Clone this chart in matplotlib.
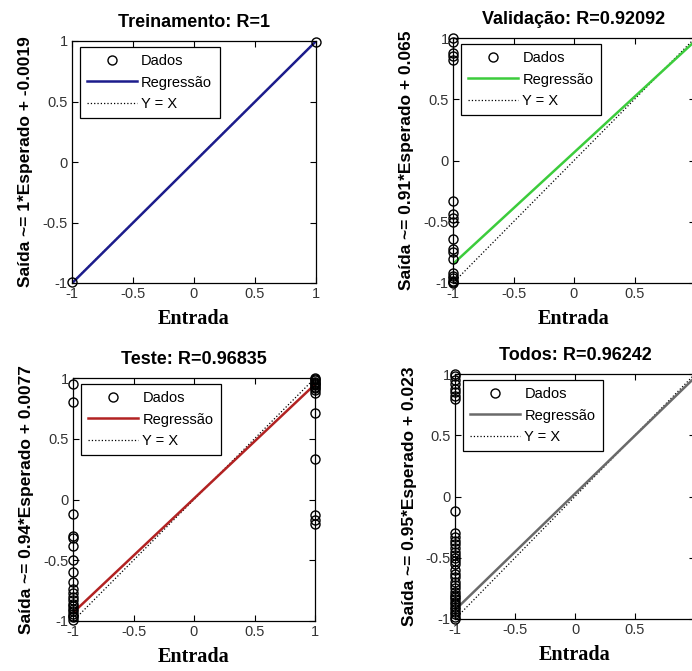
import numpy as np
import matplotlib
matplotlib.use("Agg")
import matplotlib.pyplot as plt

W, H = 692, 671

# painel: titulo, rotulo y, inclinação, intercepto, cor
titles = ["Treinamento: R=1", "Validação: R=0.92092", "Teste: R=0.96835", "Todos: R=0.96242"]
ylabels = ["Saída ~= 1*Esperado + -0.0019", "Saída ~= 0.91*Esperado + 0.065",
           "Saída ~= 0.94*Esperado + 0.0077", "Saída ~= 0.95*Esperado + 0.023"]
slopes = [1.0, 0.91, 0.94, 0.95]
intercepts = [-0.0019, 0.065, 0.0077, 0.023]
colors = ["#1c1c8c", "#3ccc3c", "#b22222", "#6a6a6a"]

# saídas, para alvo -1 e alvo 1
train_neg = [-0.99]
train_pos = [0.99]
valid_neg = [1.0, 0.97, 0.88, 0.85, 0.82, -0.33, -0.44, -0.47, -0.5, -0.64, -0.72, -0.75, -0.8,
             -0.92, -0.94, -0.96, -0.98, -0.99, -1.0]
valid_pos = []
test_neg = [0.95, 0.8, -0.12, -0.3, -0.32, -0.38, -0.5, -0.6, -0.68, -0.74, -0.77, -0.8, -0.83,
            -0.86, -0.88, -0.9, -0.92, -0.94, -0.96, -0.97, -0.99]
test_pos = [1.0, 0.99, 0.98, 0.97, 0.96, 0.95, 0.94, 0.93, 0.92, 0.9, 0.88, 0.71, 0.33,
            -0.13, -0.17, -0.2]
all_neg = [1.0, 0.98, 0.95, 0.92, 0.88, 0.85, 0.82, 0.8, -0.12, -0.3, -0.33, -0.36, -0.39, -0.42,
           -0.45, -0.48, -0.5, -0.53, -0.55, -0.6, -0.63, -0.66, -0.7, -0.72, -0.75, -0.78, -0.8,
           -0.82, -0.84, -0.86, -0.88, -0.9, -0.92, -0.94, -0.96, -0.98, -1.0]
all_pos = []
neg_data = [train_neg, valid_neg, test_neg, all_neg]
pos_data = [train_pos, valid_pos, test_pos, all_pos]

ticks = [-1, -0.5, 0, 0.5, 1]
tick_labels = ["-1", "-0.5", "0", "0.5", "1"]

# caixas dos eixos em pixels: esquerda, direita, topo, base
boxes = [(72, 316, 41, 283), (453, 695, 38, 283), (73, 315, 378, 621), (455, 695, 374, 619)]

fig = plt.figure(figsize=(W / 100, H / 100), dpi=100)
plt.rcParams['font.family'] = ['Liberation Sans', 'DejaVu Sans']

for i in range(4):
    l, r, t, b = boxes[i]
    aw, ah = r - l, b - t
    ax = fig.add_axes([l / W, (H - b) / H, aw / W, ah / H])
    xs = [-1] * len(neg_data[i]) + [1] * len(pos_data[i])
    ys = list(neg_data[i]) + list(pos_data[i])
    ax.plot(xs, ys, 'o', mfc='none', mec='k', ms=6.5, mew=1, clip_on=False, label='Dados', zorder=3)
    fx = np.array([-1, 1])
    ax.plot(fx, slopes[i] * fx + intercepts[i], '-', color=colors[i], lw=1.8, label='Regressão', zorder=2)
    ax.plot(fx, fx, ':', color='k', lw=0.9, label='Y = X', zorder=1)
    ax.set_xlim(-1, 1)
    ax.set_ylim(-1, 1)
    ax.set_xticks(ticks)
    ax.set_yticks(ticks)
    xl = list(tick_labels)
    if i % 2 == 1:
        xl[-1] = ""  # cortado na borda direita da imagem
    ax.set_xticklabels(xl)
    ax.set_yticklabels(tick_labels)
    ax.tick_params(direction='in', top=True, right=True, length=4, width=0.8,
                   labelsize=10.5, labelcolor='#333333', pad=3)
    for s in ax.spines.values():
        s.set_linewidth(0.9)
    ax.set_title(titles[i], fontsize=13, fontweight='bold', pad=10)
    ax.set_ylabel(ylabels[i], fontsize=12.5, fontweight='bold')
    ax.yaxis.set_label_coords(-0.16, 0.5)
    ax.set_xlabel('Entrada', family='Liberation Serif', fontsize=14.5, fontweight='bold', labelpad=6)
    leg = ax.legend(loc='upper left', bbox_to_anchor=(8 / aw, 1 - 6 / ah), borderaxespad=0,
                    fontsize=10.5, numpoints=1, handlelength=3.4, handletextpad=0.3,
                    borderpad=0.5, labelspacing=0.5,
                    fancybox=False, framealpha=1, edgecolor='k')
    leg.get_frame().set_linewidth(0.9)

fig.savefig("out.png", dpi=100)
